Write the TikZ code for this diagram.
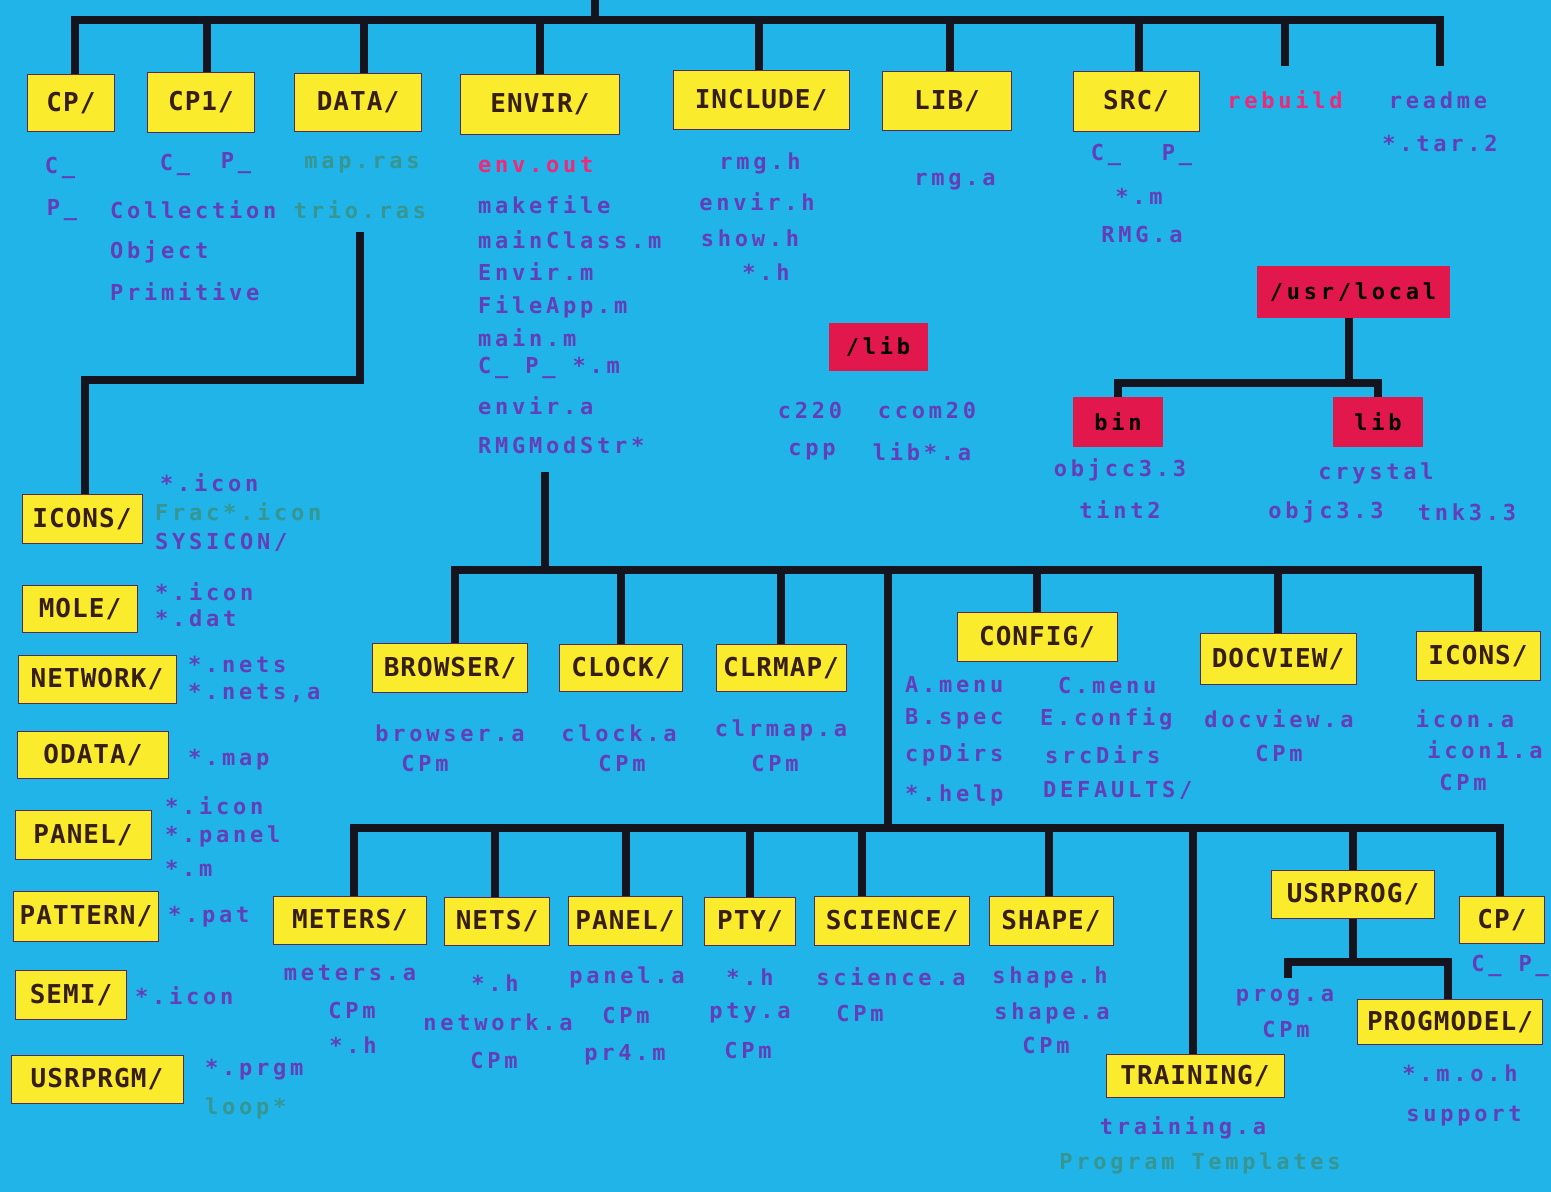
\documentclass[tikz,border=0pt]{standalone}
\usepackage{fontspec}
\newfontfamily\boxfont[LetterSpace=4]{DejaVu Sans Mono}
\newfontfamily\itfont[LetterSpace=17]{DejaVu Sans Mono}
\definecolor{bgc}{RGB}{32,180,232}
\definecolor{yboxc}{RGB}{250,236,44}
\definecolor{rboxc}{RGB}{226,24,76}
\definecolor{boxedge}{RGB}{90,40,80}
\definecolor{boxtx}{RGB}{55,30,20}
\definecolor{ink}{RGB}{100,62,185}
\definecolor{tealtx}{RGB}{55,150,145}
\definecolor{pinktx}{RGB}{240,40,120}
\definecolor{busc}{RGB}{20,20,30}
\tikzset{
  bus/.style={draw=busc, line width=8pt},
  ybox/.style={draw=boxedge, line width=1pt, fill=yboxc, text=boxtx, inner sep=0pt,
    font=\boxfont\bfseries\fontsize{26}{26}\selectfont, minimum height=49},
  rbox/.style={fill=rboxc, text=black, inner sep=0pt,
    font=\itfont\bfseries\fontsize{22}{22}\selectfont, minimum height=49},
  ftxt/.style={text=ink, inner sep=0pt, font=\itfont\bfseries\fontsize{22}{22}\selectfont},
  gtxt/.style={ftxt, text=tealtx},
  ptxt/.style={ftxt, text=pinktx},
}
\begin{document}
\begin{tikzpicture}[x=1pt,y=-1pt]
\useasboundingbox (0,0) rectangle (1551,1192);
\fill[bgc] (0,0) rectangle (1551,1192);

% ---------- top level ----------
\node[ybox, minimum width=87, minimum height=57] (cp) at (71,103) {CP/};
\node[ybox, minimum width=107, minimum height=60] (cpone) at (201,102) {CP1/};
\node[ybox, minimum width=127, minimum height=58] (data) at (358,102) {DATA/};
\node[ybox, minimum width=159, minimum height=60] (envir) at (540,104) {ENVIR/};
\node[ybox, minimum width=176, minimum height=59] (include) at (761,100) {INCLUDE/};
\node[ybox, minimum width=129, minimum height=59] (lib) at (947,101) {LIB/};
\node[ybox, minimum width=126, minimum height=60] (src) at (1136,101) {SRC/};
\node[ptxt] (rebuild) at (1285,100) {rebuild};
\node[ftxt] (readme) at (1438,100) {readme};

\coordinate (root) at (595,0);
\coordinate (busL) at (75,20);
\coordinate (busR) at (1440,20);
\coordinate (rbend) at (1285,66);
\coordinate (rdend) at (1440,66);
\draw[bus] (root) -- (root |- busL);
\draw[bus, line cap=rect] (busL) -- (busR);
\draw[bus] (busL) -- (busL |- cp.north);
\draw[bus] ([xshift=6pt]cpone.north) -- ([xshift=6pt]cpone.north |- busL);
\draw[bus] ([xshift=6pt]data.north) -- ([xshift=6pt]data.north |- busL);
\draw[bus] (envir.north) -- (envir.north |- busL);
\draw[bus] ([xshift=-2pt]include.north) -- ([xshift=-2pt]include.north |- busL);
\draw[bus] ([xshift=3pt]lib.north) -- ([xshift=3pt]lib.north |- busL);
\draw[bus] ([xshift=3pt]src.north) -- ([xshift=3pt]src.north |- busL);
\draw[bus] (rbend) -- (rbend |- busL);
\draw[bus] (rdend) -- (busR);

% CP items
\node[ftxt] (t1) at (60,168) {C\_};
\node[ftxt] (t2) at (62,210) {P\_};
% CP1 items
\node[ftxt] (t3) at (175,165) {C\_};
\node[ftxt] (t4) at (236,163) {P\_};
\node[ftxt, anchor=west] (t5) at (110,210) {Collection};
\node[ftxt, anchor=west] (t6) at (110,252) {Object};
\node[ftxt, anchor=west] (t7) at (110,292) {Primitive};
% DATA items
\node[gtxt] (t8) at (362,165) {map.ras};
\node[gtxt] (t9) at (360,210) {trio.ras};
% ENVIR items
\node[ptxt, anchor=west] (e1) at (478,165) {env.out};
\node[ftxt, anchor=west] (e2) at (478,205) {makefile};
\node[ftxt, anchor=west] (e3) at (478,240) {mainClass.m};
\node[ftxt, anchor=west] (e4) at (478,272) {Envir.m};
\node[ftxt, anchor=west] (e5) at (478,307) {FileApp.m};
\node[ftxt, anchor=west] (e6) at (478,338) {main.m};
\node[ftxt, anchor=west] (e7) at (478,368) {C\_ P\_ *.m};
\node[ftxt, anchor=west] (e8) at (478,406) {envir.a};
\node[ftxt, anchor=west] (e9) at (478,445) {RMGModStr*};
% INCLUDE items
\node[ftxt] (i1) at (760,163) {rmg.h};
\node[ftxt] (i2) at (757,202) {envir.h};
\node[ftxt] (i3) at (750,238) {show.h};
\node[ftxt] (i4) at (766,272) {*.h};
% LIB items
\node[ftxt] (l1) at (955,182) {rmg.a};
% SRC items
\node[ftxt] (s1) at (1106,155) {C\_};
\node[ftxt] (s2) at (1177,155) {P\_};
\node[ftxt] (s3) at (1139,196) {*.m};
\node[ftxt] (s4) at (1142,234) {RMG.a};
% readme items
\node[ftxt] (r1) at (1440,143) {*.tar.2};

% ---------- /lib ----------
\node[rbox, minimum width=99, minimum height=48] (slib) at (878,347) {/lib};
\node[ftxt] (sl1) at (810,410) {c220};
\node[ftxt] (sl2) at (927,410) {ccom20};
\node[ftxt] (sl3) at (812,452) {cpp};
\node[ftxt] (sl4) at (922,452) {lib*.a};

% ---------- /usr/local ----------
\node[rbox, minimum width=193, minimum height=52] (usr) at (1353,292) {/usr/local};
\node[rbox, minimum width=90, minimum height=50] (bin) at (1118,422) {bin};
\node[rbox, minimum width=90, minimum height=50] (ulib) at (1378,422) {lib};
\coordinate (ubus) at (1349,383);
\draw[bus] ([xshift=-4pt]usr.south) -- (ubus);
\draw[bus] (bin.north) |- (ubus);
\draw[bus] (ulib.north) |- (ubus);
\node[ftxt] (b1) at (1120,470) {objcc3.3};
\node[ftxt] (b2) at (1120,510) {tint2};
\node[ftxt] (u1) at (1376,473) {crystal};
\node[ftxt] (u2) at (1326,512) {objc3.3};
\node[ftxt] (u3) at (1467,512) {tnk3.3};

% ---------- left column ----------
\node[ybox, minimum width=120] (icons1) at (82,519) {ICONS/};
\node[ybox, minimum width=115, minimum height=47] (mole) at (80,609) {MOLE/};
\node[ybox, minimum width=158, minimum height=48] (network) at (97,679) {NETWORK/};
\node[ybox, minimum width=151, minimum height=47] (odata) at (93,755) {ODATA/};
\node[ybox, minimum width=136] (panel1) at (83,835) {PANEL/};
\node[ybox, minimum width=145, minimum height=50] (pattern) at (86,916) {PATTERN/};
\node[ybox, minimum width=111] (semi) at (71,995) {SEMI/};
\node[ybox, minimum width=172, minimum height=48] (usrprgm) at (97,1079) {USRPRGM/};

\coordinate (dstart) at (360,232);
\coordinate (dbend) at (85,380);
\draw[bus] (dstart) |- (dbend) -- (dbend |- icons1.north);

\node[ftxt, anchor=west] (c1) at (160,483) {*.icon};
\node[gtxt, anchor=west] (c2) at (155,512) {Frac*.icon};
\node[ftxt, anchor=west] (c3) at (155,542) {SYSICON/};
\node[ftxt, anchor=west] (c4) at (155,592) {*.icon};
\node[ftxt, anchor=west] (c5) at (155,618) {*.dat};
\node[ftxt, anchor=west] (c6) at (188,664) {*.nets};
\node[ftxt, anchor=west] (c7) at (188,693) {*.nets,a};
\node[ftxt, anchor=west] (c8) at (188,760) {*.map};
\node[ftxt, anchor=west] (c9) at (165,806) {*.icon};
\node[ftxt, anchor=west] (c10) at (165,836) {*.panel};
\node[ftxt, anchor=west] (c11) at (165,868) {*.m};
\node[ftxt, anchor=west] (c12) at (168,917) {*.pat};
\node[ftxt, anchor=west] (c13) at (135,996) {*.icon};
\node[ftxt, anchor=west] (c14) at (205,1070) {*.prgm};
\node[gtxt, anchor=west] (c15) at (205,1108) {loop*};

% ---------- middle tree ----------
\node[ybox, minimum width=155] (browser) at (450,668) {BROWSER/};
\node[ybox, minimum width=123, minimum height=47] (clock) at (621,668) {CLOCK/};
\node[ybox, minimum width=130, minimum height=47] (clrmap) at (781,668) {CLRMAP/};
\node[ybox, minimum width=160] (config) at (1037,637) {CONFIG/};
\node[ybox, minimum width=156, minimum height=51] (docview) at (1278,659) {DOCVIEW/};
\node[ybox, minimum width=124] (icons2) at (1478,656) {ICONS/};

\coordinate (mstart) at (545,472);
\coordinate (mbusL) at (455,570);
\coordinate (mbusR) at (1478,570);
\coordinate (vtop) at (888,570);
\coordinate (lbusL) at (354,828);
\coordinate (lbusR) at (1500,828);
\draw[bus] (mstart) -- (mstart |- mbusL);
\draw[bus, line cap=rect] (mbusL) -- (mbusR);
\draw[bus] ([xshift=5pt]browser.north) -- ([xshift=5pt]browser.north |- mbusL);
\draw[bus] (clock.north) -- (clock.north |- mbusL);
\draw[bus] (clrmap.north) -- (clrmap.north |- mbusL);
\draw[bus] (config.north) -- (config.north |- mbusL);
\draw[bus] (docview.north) -- (docview.north |- mbusL);
\draw[bus] (icons2.north) -- (mbusR);
\draw[bus] (vtop) -- (vtop |- lbusL);

\node[ftxt] (m1) at (450,733) {browser.a};
\node[ftxt] (m2) at (425,763) {CPm};
\node[ftxt] (m3) at (619,733) {clock.a};
\node[ftxt] (m4) at (622,763) {CPm};
\node[ftxt] (m5) at (781,730) {clrmap.a};
\node[ftxt] (m6) at (775,763) {CPm};
\node[ftxt, anchor=west] (g1) at (905,685) {A.menu};
\node[ftxt, anchor=west] (g2) at (905,719) {B.spec};
\node[ftxt, anchor=west] (g3) at (905,755) {cpDirs};
\node[ftxt, anchor=west] (g4) at (905,795) {*.help};
\node[ftxt, anchor=west] (g5) at (1058,685) {C.menu};
\node[ftxt, anchor=west] (g6) at (1040,719) {E.config};
\node[ftxt, anchor=west] (g7) at (1045,755) {srcDirs};
\node[ftxt, anchor=west] (g8) at (1043,790) {DEFAULTS/};
\node[ftxt] (d1) at (1279,719) {docview.a};
\node[ftxt] (d2) at (1279,753) {CPm};
\node[ftxt] (n1) at (1465,719) {icon.a};
\node[ftxt] (n2) at (1485,750) {icon1.a};
\node[ftxt] (n3) at (1463,782) {CPm};

% ---------- bottom tree ----------
\node[ybox, minimum width=153, minimum height=48] (meters) at (350,920) {METERS/};
\node[ybox, minimum width=105, minimum height=48] (nets) at (497,921) {NETS/};
\node[ybox, minimum width=114] (panel2) at (625,921) {PANEL/};
\node[ybox, minimum width=91, minimum height=48] (pty) at (750,921) {PTY/};
\node[ybox, minimum width=155] (science) at (892,921) {SCIENCE/};
\node[ybox, minimum width=124] (shape) at (1051,921) {SHAPE/};
\node[ybox, minimum width=178, minimum height=43] (training) at (1195,1076) {TRAINING/};
\node[ybox, minimum width=163, minimum height=48] (usrprog) at (1353,894) {USRPROG/};
\node[ybox, minimum width=85, minimum height=47] (cp2) at (1502,920) {CP/};
\node[ybox, minimum width=185, minimum height=45] (progmodel) at (1450,1022) {PROGMODEL/};

\draw[bus, line cap=rect] (lbusL) -- (lbusR);
\draw[bus] (lbusL) -- (lbusL |- meters.north);
\draw[bus] ([xshift=-2pt]nets.north) -- ([xshift=-2pt]nets.north |- lbusL);
\draw[bus] ([xshift=1pt]panel2.north) -- ([xshift=1pt]panel2.north |- lbusL);
\draw[bus] (pty.north) -- (pty.north |- lbusL);
\draw[bus] ([xshift=-30pt]science.north) -- ([xshift=-30pt]science.north |- lbusL);
\draw[bus] ([xshift=-2pt]shape.north) -- ([xshift=-2pt]shape.north |- lbusL);
\draw[bus] ([xshift=-2pt]training.north) -- ([xshift=-2pt]training.north |- lbusL);
\draw[bus] (usrprog.north) -- (usrprog.north |- lbusL);
\draw[bus] (lbusR) -- (lbusR |- cp2.north);

\coordinate (pbus) at (1353,962);
\coordinate (stub) at (1288,978);
\draw[bus] (usrprog.south) -- (pbus);
\draw[bus] (stub) |- (pbus);
\draw[bus] ([xshift=-2pt]progmodel.north) |- (pbus);

\node[ftxt] (k1) at (350,973) {meters.a};
\node[ftxt] (k2) at (352,1010) {CPm};
\node[ftxt] (k3) at (353,1045) {*.h};
\node[ftxt] (k4) at (495,983) {*.h};
\node[ftxt] (k5) at (498,1022) {network.a};
\node[ftxt] (k6) at (494,1060) {CPm};
\node[ftxt] (k7) at (627,977) {panel.a};
\node[ftxt] (k8) at (626,1015) {CPm};
\node[ftxt] (k9) at (625,1055) {pr4.m};
\node[ftxt] (k10) at (750,977) {*.h};
\node[ftxt] (k11) at (750,1013) {pty.a};
\node[ftxt] (k12) at (748,1050) {CPm};
\node[ftxt] (k13) at (891,977) {science.a};
\node[ftxt] (k14) at (860,1013) {CPm};
\node[ftxt] (k15) at (1050,977) {shape.h};
\node[ftxt] (k16) at (1052,1013) {shape.a};
\node[ftxt] (k17) at (1046,1045) {CPm};
\node[ftxt] (k18) at (1285,998) {prog.a};
\node[ftxt] (k19) at (1286,1029) {CPm};
\node[ftxt] (k20) at (1460,1073) {*.m.o.h};
\node[ftxt] (k21) at (1464,1116) {support};
\node[ftxt] (k22) at (1510,966) {C\_ P\_};
\node[ftxt] (k23) at (1183,1128) {training.a};
\node[gtxt] (k24) at (1200,1163) {Program Templates};
\end{tikzpicture}
\end{document}
